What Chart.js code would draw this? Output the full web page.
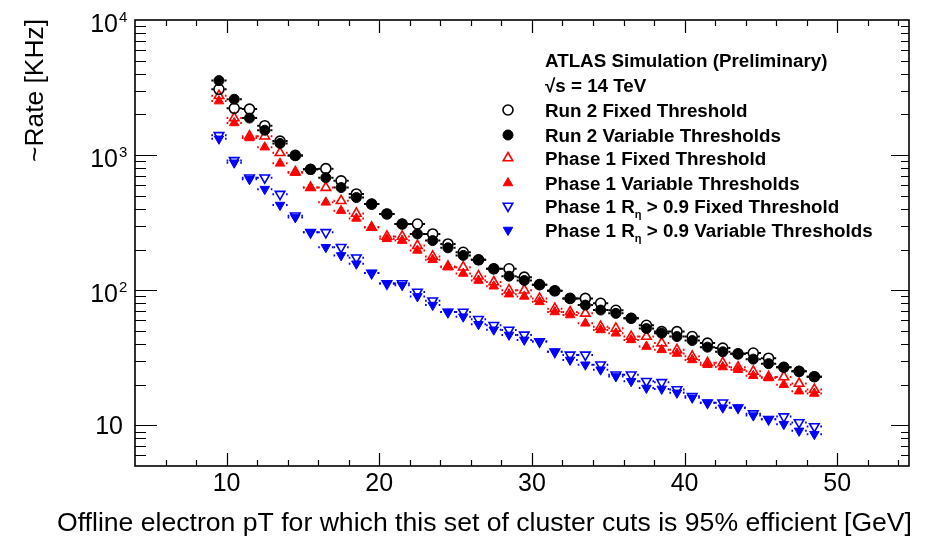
<!DOCTYPE html>
<html>
<head>
<meta charset="utf-8">
<title>Rate vs offline electron pT</title>
<script src="https://cdn.jsdelivr.net/npm/chart.js@4.4.1/dist/chart.umd.min.js"></script>
<style>
  html, body { margin: 0; padding: 0; background: #fff; }
  #wrap { width: 925px; height: 537px; }
</style>
</head>
<body>
<div id="wrap"><canvas id="rateChart" width="925" height="537"></canvas></div>
<script>
// offline pT bin centres [GeV]
const ptBins = [9.5, 10.5, 11.5, 12.5, 13.5, 14.5, 15.5, 16.5, 17.5, 18.5,
  19.5, 20.5, 21.5, 22.5, 23.5, 24.5, 25.5, 26.5, 27.5, 28.5,
  29.5, 30.5, 31.5, 32.5, 33.5, 34.5, 35.5, 36.5, 37.5, 38.5,
  39.5, 40.5, 41.5, 42.5, 43.5, 44.5, 45.5, 46.5, 47.5, 48.5];
const binHalfWidth = 0.5;

// rates [kHz]
const run2Fixed = [3070, 2220, 2190, 1650, 1270, 995, 785, 794, 645, 516,
  434, 367, 309, 309, 261, 220, 191, 168, 144, 144,
  125, 110, 99, 87, 87, 80, 71, 62, 55, 49.4,
  49.4, 45.4, 40.6, 37.3, 33.8, 34.3, 31.4, 26.9, 25.1, 22.9];
const run2Variable = [3560, 2590, 1880, 1527, 1220, 995, 785, 681, 575, 485,
  434, 367, 309, 261, 233, 206, 181, 168, 144, 127,
  118, 110, 99, 87, 77.6, 71.3, 67.4, 62, 52, 48,
  45.4, 42.4, 37.9, 35, 33.8, 30.9, 28.6, 26.9, 25.1, 22.9];
const phase1Fixed = [2750, 1880, 1380, 1380, 1040, 750, 575, 575, 459, 370,
  292, 250, 250, 214, 178, 150, 148, 127, 115, 100,
  100, 87, 73, 69, 67.4, 53.7, 52.2, 45.4, 45.4, 40.6,
  36.2, 32.4, 29, 29, 26.9, 25.1, 22.8, 22.8, 20.4, 18.4];
const phase1Variable = [2510, 1730, 1340, 1145, 869, 740, 575, 447, 388, 340,
  292, 240, 233, 197, 168, 148, 133, 118, 107, 93.5,
  90, 82, 69, 65.5, 56.9, 50.8, 48, 42.9, 38.3, 36.2,
  34, 30.5, 28.1, 27, 25.8, 23.3, 22.4, 20, 17.9, 17.2];
const phase1RetaFixed = [1400, 914, 680, 680, 514, 356, 268, 268, 208, 174,
  134, 112, 112, 97, 83.6, 69, 69, 60.9, 55, 50.8,
  46.7, 41.7, 35, 33.2, 33.2, 28.1, 23.7, 23.7, 21.2, 20.8,
  18.4, 16.4, 14.7, 14.7, 13.5, 12.2, 11.1, 11.6, 10.5, 9.8];
const phase1RetaVariable = [1320, 878, 662, 560, 427, 346, 268, 208, 181, 157,
  134, 112, 109, 90, 77.6, 69, 63.7, 56, 51, 46.7,
  42.9, 41.7, 35, 30.5, 28.1, 25.8, 23, 21.2, 18.9, 18.6,
  17.4, 16, 14.7, 13.5, 13.5, 11.8, 11.1, 10.2, 9.1, 8.6];

// axis ticks
const xMajorTicks = [10, 20, 30, 40, 50];
const xTickLabels = ['10', '20', '30', '40', '50'];
const yMajorTicks = [10, 100, 1000, 10000];
const yTickExponents = ['', '2', '3', '4'];

const FONT = '"Liberation Sans", Arial, Helvetica, sans-serif';

function points(values) {
  return ptBins.map((x, i) => ({ x: x, y: values[i] }));
}

function marker(label, values, color, style, filled) {
  return {
    label: label,
    data: points(values),
    pointStyle: style === 'down' ? 'triangle' : style,
    rotation: style === 'down' ? 180 : 0,
    pointRadius: style === 'circle' ? 5 : 5.5,
    pointBorderWidth: filled ? 1 : 1.6,
    borderColor: color,
    backgroundColor: filled ? color : 'rgba(255,255,255,0)',
    showLine: false,
    filled: filled
  };
}

// horizontal error bars (bin width), broken round the marker like ROOT does
const xErrorBars = {
  id: 'xErrorBars',
  beforeDatasetsDraw(chart) {
    const { ctx, scales: { x, y } } = chart;
    ctx.save();
    ctx.lineWidth = 2;
    chart.data.datasets.forEach(ds => {
      const gap = ds.pointRadius + 0.5;
      ctx.strokeStyle = ds.borderColor;
      ctx.beginPath();
      ds.data.forEach(p => {
        const px = x.getPixelForValue(p.x);
        const py = y.getPixelForValue(p.y);
        ctx.moveTo(x.getPixelForValue(p.x - binHalfWidth), py);
        ctx.lineTo(px - gap, py);
        ctx.moveTo(px + gap, py);
        ctx.lineTo(x.getPixelForValue(p.x + binHalfWidth), py);
      });
      ctx.stroke();
    });
    ctx.restore();
  }
};

function fitText(ctx, text, x, y, width, align) {
  const w = ctx.measureText(text).width;
  const s = width / w;
  ctx.save();
  ctx.translate(x, y);
  ctx.scale(s, 1);
  ctx.textAlign = align;
  ctx.fillText(text, 0, 0);
  ctx.restore();
}

// ROOT style frame, inward ticks, labels and titles
const rootFrame = {
  id: 'rootFrame',
  afterDraw(chart) {
    const { ctx, chartArea: a, scales: { x, y } } = chart;
    ctx.save();
    ctx.strokeStyle = '#000';
    ctx.fillStyle = '#000';
    ctx.lineWidth = 1.2;
    ctx.beginPath();
    for (let v = 6; v < x.max; v += 2) {
      const px = Math.round(x.getPixelForValue(v)) + 0.5;
      const len = v % 10 === 0 ? 13 : 6;
      ctx.moveTo(px, a.bottom); ctx.lineTo(px, a.bottom - len);
      ctx.moveTo(px, a.top); ctx.lineTo(px, a.top + len);
    }
    for (let dec = 1; dec <= 1000; dec *= 10) {
      for (let m = 1; m <= 9; m++) {
        const v = m * dec;
        if (v <= y.min || v >= y.max) continue;
        const py = Math.round(y.getPixelForValue(v)) + 0.5;
        const major = m === 1;
        ctx.moveTo(a.left, py); ctx.lineTo(a.left + (major ? 22 : 11), py);
        ctx.moveTo(a.right, py); ctx.lineTo(a.right - (major ? 18 : 8), py);
      }
    }
    ctx.stroke();
    ctx.lineWidth = 1.6;
    ctx.strokeRect(a.left, a.top, a.right - a.left, a.bottom - a.top);

    // x tick labels
    ctx.font = '25px ' + FONT;
    ctx.textAlign = 'center';
    ctx.textBaseline = 'alphabetic';
    xMajorTicks.forEach((v, i) => {
      ctx.fillText(xTickLabels[i], x.getPixelForValue(v), a.bottom + 25);
    });

    // y tick labels
    yMajorTicks.forEach((v, i) => {
      const py = y.getPixelForValue(v);
      const exp = yTickExponents[i];
      ctx.font = '25px ' + FONT;
      ctx.textAlign = 'right';
      if (exp) {
        ctx.fillText('10', a.left - 17, py + 12);
        ctx.font = '15px ' + FONT;
        ctx.textAlign = 'left';
        ctx.fillText(exp, a.left - 16, py + 2);
      } else {
        ctx.fillText('10', a.left - 12, py + 9);
      }
    });

    // axis titles
    ctx.font = '25px ' + FONT;
    fitText(ctx, 'Offline electron pT for which this set of cluster cuts is 95% efficient [GeV]',
      a.right + 3, 531, 855, 'right');
    ctx.save();
    ctx.translate(43, a.top - 1);
    ctx.rotate(-Math.PI / 2);
    fitText(ctx, '~Rate [KHz]', 0, 0, 143, 'right');
    ctx.restore();
    ctx.restore();
  }
};

// legend block in the upper right of the frame
const legendBox = {
  id: 'legendBox',
  afterDraw(chart) {
    const { ctx } = chart;
    const tx = 545, mx = 508;
    const bold = 'bold 18.8px ' + FONT;
    ctx.save();
    ctx.fillStyle = '#000';
    ctx.textAlign = 'left';
    ctx.textBaseline = 'alphabetic';
    ctx.font = bold;
    ctx.fillText('ATLAS Simulation (Preliminary)', tx, 67);
    ctx.fillText('\u221As = 14 TeV', tx, 92);
    const rows = [110, 135, 158, 183, 206, 230];
    chart.data.datasets.forEach((ds, i) => {
      const ry = rows[i];
      ctx.fillStyle = ds.filled ? ds.borderColor : 'rgba(255,255,255,0)';
      ctx.strokeStyle = ds.borderColor;
      ctx.lineWidth = ds.pointBorderWidth;
      Chart.helpers.drawPoint(ctx, {
        pointStyle: ds.pointStyle, rotation: ds.rotation,
        radius: ds.pointRadius, borderWidth: ds.pointBorderWidth
      }, mx, ry);
      ctx.fillStyle = '#000';
      ctx.font = bold;
      const base = ry + 7;
      const parts = ds.label.split('R_eta');
      if (parts.length === 1) {
        ctx.fillText(ds.label, tx, base);
      } else {
        ctx.fillText(parts[0] + 'R', tx, base);
        let cx = tx + ctx.measureText(parts[0] + 'R').width;
        ctx.font = 'bold 11px ' + FONT;
        ctx.fillText('\u03B7', cx, base + 5);
        cx += ctx.measureText('\u03B7').width;
        ctx.font = bold;
        ctx.fillText(parts[1], cx, base);
      }
    });
    ctx.restore();
  }
};

const ctx = document.getElementById('rateChart').getContext('2d');
const rateChart = new Chart(ctx, {
  type: 'scatter',
  data: {
    datasets: [
      marker('Run 2 Fixed Threshold', run2Fixed, '#000000', 'circle', false),
      marker('Run 2 Variable Thresholds', run2Variable, '#000000', 'circle', true),
      marker('Phase 1 Fixed Threshold', phase1Fixed, '#ff0000', 'triangle', false),
      marker('Phase 1 Variable Thresholds', phase1Variable, '#ff0000', 'triangle', true),
      marker('Phase 1 R_eta > 0.9 Fixed Threshold', phase1RetaFixed, '#0000ff', 'down', false),
      marker('Phase 1 R_eta > 0.9 Variable Thresholds', phase1RetaVariable, '#0000ff', 'down', true)
    ]
  },
  options: {
    responsive: false,
    animation: false,
    devicePixelRatio: 1,
    layout: { padding: { left: 135, right: 16, top: 20, bottom: 71 } },
    scales: {
      x: { type: 'linear', min: 4, max: 54.7, display: false },
      y: { type: 'logarithmic', min: 5, max: 10000, display: false }
    },
    plugins: {
      legend: { display: false },
      tooltip: { enabled: false }
    }
  },
  plugins: [xErrorBars, rootFrame, legendBox]
});
</script>
</body>
</html>
